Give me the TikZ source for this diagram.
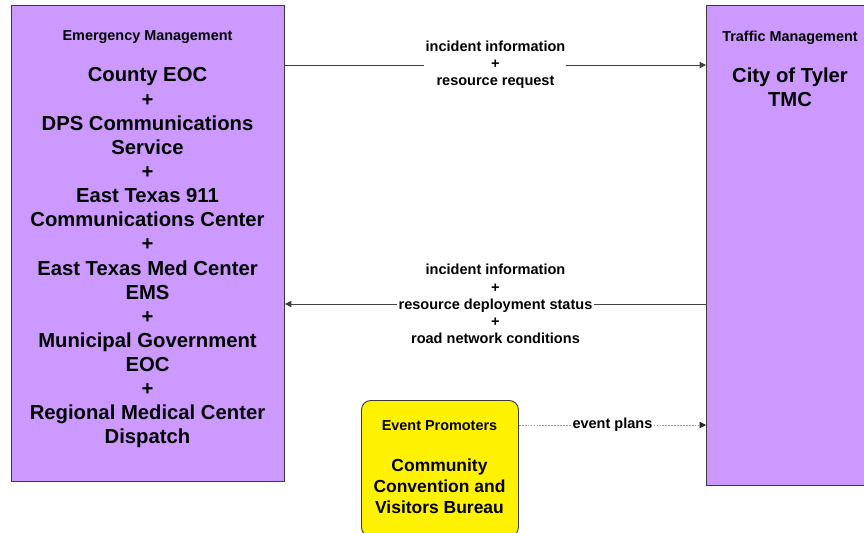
\documentclass[tikz,border=0pt]{standalone}
\usepackage{fontspec}
\setmainfont{Liberation Sans}
\usetikzlibrary{arrows.meta,positioning}

\definecolor{lilac}{HTML}{CC99FF}
\definecolor{framegray}{HTML}{3A3A3A}

\begin{document}
\begin{tikzpicture}[x=0.03cm,y=-0.03cm,
    flow/.style={draw=black!75, line width=0.8pt, -{Triangle[length=5.5pt,width=5.5pt]}},
    plans/.style={draw=black!40, line width=0.7pt, dash pattern=on 1.5pt off 1pt,
      -{Triangle[length=5.5pt,width=5.5pt,color=black!85]}},
    msg/.style={fill=white, inner sep=1pt, align=center, font=\bfseries\fontsize{12.4pt}{14.6pt}\selectfont}]

      \useasboundingbox (0,0) rectangle (864,533);

      \begin{scope}[every node/.style={draw=framegray, line width=0.8pt, fill=lilac, anchor=north west}]
        \node[minimum width=8.19cm, minimum height=14.28cm] (em) at (11,5) {};
        \node[minimum width=5.04cm, minimum height=14.4cm] (tm) at (706,5) {};
        \node[fill=yellow, rounded corners=8pt, minimum width=4.71cm, minimum height=4.08cm] (ep) at (361,400) {};
      \end{scope}

      \begin{scope}[every node/.style={align=center, font=\bfseries\fontsize{12.3pt}{14.6pt}\selectfont}]
        \node (emtitle) at (147.5,37.5) {Emergency Management};
        \node (tmtitle) at (790,37.5) {Traffic Management};
        \node (eptitle) at (439.5,426) {Event Promoters};
      \end{scope}

      \begin{scope}[every node/.style={align=center, font=\bfseries\fontsize{17.3pt}{20.6pt}\selectfont}]
        \node (embody) at (147.5,258) {County EOC\\+\\DPS Communications\\Service\\+\\East Texas 911\\Communications Center\\+\\East Texas Med Center\\EMS\\+\\Municipal Government\\EOC\\+\\Regional Medical Center\\Dispatch};
        \node (tmbody) at (790,87.5) {City of Tyler\\TMC};
        \node[font=\bfseries\fontsize{14.9pt}{17.9pt}\selectfont] (epbody) at (439.5,486.5) {Community\\Convention and\\Visitors Bureau};
      \end{scope}

      \draw[flow] (em.east |- 0,65) -- node[msg] {incident information\\+\\resource request} (tm.west |- 0,65);
      \draw[flow] (tm.west |- 0,304) -- node[msg] {incident information\\+\\resource deployment status\\+\\road network conditions} (em.east |- 0,304);
      \draw[plans] (ep.east |- 0,425) -- node[msg] {event plans} (tm.west |- 0,425);

    \end{tikzpicture}
\end{document}
